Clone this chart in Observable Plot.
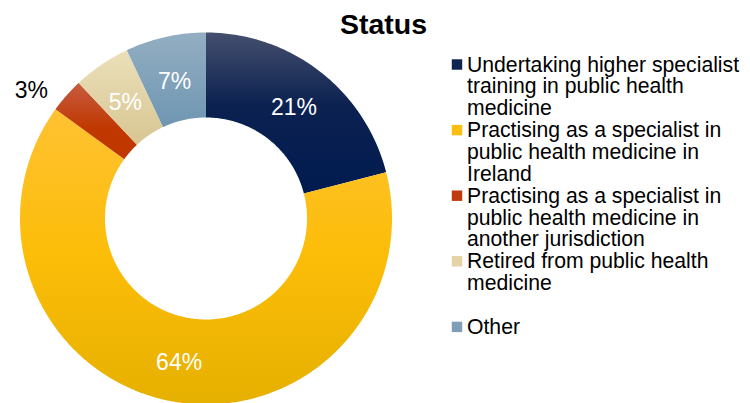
<!DOCTYPE html>
<html>
<head>
<meta charset="utf-8">
<script src="https://cdn.jsdelivr.net/npm/d3@7"></script>
<script src="https://cdn.jsdelivr.net/npm/@observablehq/plot@0.6"></script>
<style>
  html, body { margin: 0; padding: 0; background: #ffffff; }
  #chart svg { display: block; }
</style>
</head>
<body>
<div id="chart"></div>
<script>
// ---- data ----
const chartTitle = "Status";
const categories = [
  "Undertaking higher specialist training in public health medicine",
  "Practising as a specialist in public health medicine in Ireland",
  "Practising as a specialist in public health medicine in another jurisdiction",
  "Retired from public health medicine",
  "Other"
];
const legendLines = [
  "Undertaking higher specialist\ntraining in public health\nmedicine",
  "Practising as a specialist in\npublic health medicine in\nIreland",
  "Practising as a specialist in\npublic health medicine in\nanother jurisdiction",
  "Retired from public health\nmedicine",
  "Other"
];
const values = [21, 64, 3, 5, 7];
const valueLabels = ["21%", "64%", "3%", "5%", "7%"];

// ---- styles ----
const gradientStops = [
  [[0, "#454f6e"], [0.45, "#0b2150"], [1, "#011b50"]],
  [[0, "#ffc232"], [0.5, "#fcbd08"], [1, "#e6b000"]],
  [[0, "#c65c40"], [0.6, "#c03800"], [1, "#c03600"]],
  [[0, "#ebe0ba"], [1, "#d8c692"]],
  [[0, "#93aec2"], [1, "#6f96b2"]]
];
const legendColors = ["#0f2451", "#fbbd12", "#c03a10", "#e4d3a5", "#7f9fb8"];
const font = "'Liberation Sans', Arial, Helvetica, sans-serif";

// ---- layout ----
const W = 750, H = 403;
const cx = 205.5, cy = 218, R = 186, R0 = 101;

const rows = categories.map((c, i) => ({
  i, category: c, legend: legendLines[i], value: values[i], label: valueLabels[i]
}));
const arcs = d3.pie().sort(null).value(d => d.value)(rows);
const pt = (a, r) => [cx + r * Math.sin(a), cy - r * Math.cos(a)];

const slices = arcs.map(a => {
  const span = a.endAngle - a.startAngle;
  const n = Math.max(12, Math.ceil(span * 90));
  const outer = d3.range(n + 1).map(k => pt(a.startAngle + span * k / n, R));
  const inner = d3.range(n + 1).map(k => pt(a.endAngle - span * k / n, R0));
  return {
    type: "Feature",
    properties: a.data,
    geometry: {type: "Polygon", coordinates: [[...outer, ...inner, outer[0]]]}
  };
});

const labels = arcs.map(a => {
  const mid = (a.startAngle + a.endAngle) / 2;
  const inside = a.data.value >= 5;
  const [x, y] = pt(mid, inside ? (R + R0) / 2 : 200);
  return {x, y, text: a.data.label, inside};
});

const legendTop = 64, legendStep = 65.6;
const legendRows = rows.map((d, i) => ({
  ...d, lx: 456.5, ly: legendTop + i * legendStep
}));

const defsMark = () => {
  const defs = d3.create("svg:defs");
  gradientStops.forEach((stops, i) => {
    const lg = defs.append("linearGradient").attr("id", "grad" + i)
      .attr("x1", 0).attr("y1", 0).attr("x2", 0).attr("y2", 1);
    stops.forEach(([o, c]) => lg.append("stop").attr("offset", o).attr("stop-color", c));
  });
  return defs.node();
};

const plot = Plot.plot({
  width: W,
  height: H,
  margin: 0,
  projection: "identity",
  color: {type: "identity"},
  style: {fontFamily: font, background: "#ffffff"},
  marks: [
    defsMark,
    Plot.geo(slices, {fill: d => `url(#grad${d.properties.i})`, stroke: "none"}),
    Plot.text(labels.filter(d => d.inside), {
      x: "x", y: "y", text: "text", fill: "#ffffff", fontSize: 23, dy: 3
    }),
    Plot.text(labels.filter(d => !d.inside), {
      x: "x", y: "y", text: "text", fill: "#000000", fontSize: 23,
      textAnchor: "end", dx: -8, dy: 4
    }),
    Plot.text([chartTitle], {
      x: () => 383, y: () => 24, text: d => d, fontSize: 28.5, fontWeight: "bold", fill: "#000000"
    }),
    Plot.dot(legendRows, {
      x: "lx", y: "ly", symbol: "square", r: 5.9, fill: (d) => legendColors[d.i], stroke: "none"
    }),
    Plot.text(legendRows, {
      x: d => d.lx + 10, y: d => d.ly - 8.5, text: "legend", textAnchor: "start",
      lineAnchor: "top", fontSize: 21.2, lineHeight: 1.03, fill: "#000000"
    })
  ]
});

document.getElementById("chart").appendChild(plot);
</script>
</body>
</html>
